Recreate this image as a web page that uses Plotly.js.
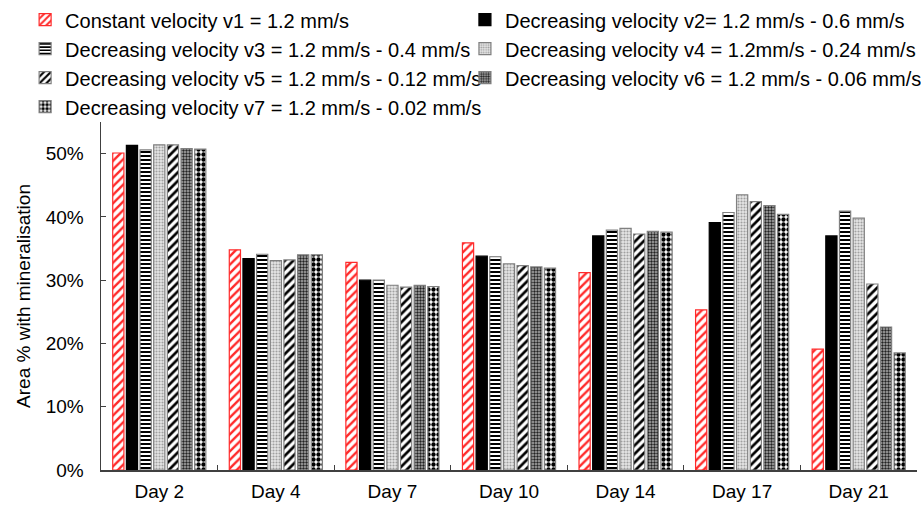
<!DOCTYPE html>
<html>
<head>
<meta charset="utf-8">
<script src="https://cdn.plot.ly/plotly-3.0.1.min.js"></script>
<style>html,body{margin:0;padding:0;background:#fff;}#chart{width:921px;height:505px;}</style>
</head>
<body>
<div id="chart"></div>
<script>
const days = ["Day 2", "Day 4", "Day 7", "Day 10", "Day 14", "Day 17", "Day 21"];
const seriesNames = [
  "Constant velocity v1 = 1.2 mm/s",
  "Decreasing velocity v2= 1.2 mm/s - 0.6 mm/s",
  "Decreasing velocity v3 = 1.2 mm/s - 0.4 mm/s",
  "Decreasing velocity v4 = 1.2mm/s - 0.24 mm/s",
  "Decreasing velocity v5 = 1.2 mm/s - 0.12 mm/s",
  "Decreasing velocity v6 = 1.2 mm/s - 0.06 mm/s",
  "Decreasing velocity v7 = 1.2 mm/s - 0.02 mm/s"
];
const v1 = [50.1, 34.8, 32.8, 35.9, 31.2, 25.3, 19.1];
const v2 = [51.3, 33.4, 30.0, 33.8, 37.0, 39.1, 37.0];
const v3 = [50.6, 34.1, 30.0, 33.7, 37.9, 40.7, 40.9];
const v4 = [51.4, 33.1, 29.2, 32.6, 38.2, 43.5, 39.8];
const v5 = [51.4, 33.2, 28.9, 32.3, 37.3, 42.4, 29.4];
const v6 = [50.8, 34.0, 29.2, 32.1, 37.7, 41.8, 22.6];
const v7 = [50.7, 34.0, 29.0, 31.9, 37.6, 40.4, 18.5];
const values = [v1, v2, v3, v4, v5, v6, v7];
// legend column of each series (left column: v1,v3,v5,v7; right column: v2,v4,v6)
const legendColumn = ["legend", "legend2", "legend", "legend2", "legend", "legend2", "legend"];

const styles = [
  {line: "#ff2a2a", shape: "/", fg: "#ff2a2a", bg: "#ffffff", size: 6, solidity: 0.4},
  {line: "#000000", solid: "#000000"},
  {line: "#808080", shape: "-", fg: "#000000", bg: "#ffffff", size: 4, solidity: 0.5},
  {line: "#808080", shape: ".", fg: "#a0a0a0", bg: "#e6e6e6", size: 3, solidity: 0.4},
  {line: "#808080", shape: "/", fg: "#000000", bg: "#ffffff", size: 6, solidity: 0.45},
  {line: "#808080", shape: ".", fg: "#222222", bg: "#b0b0b0", size: 3, solidity: 0.5},
  {line: "#808080", shape: ".", fg: "#000000", bg: "#ffffff", size: 5, solidity: 0.6}
];

const traces = values.map((vals, i) => {
  const s = styles[i];
  const marker = {line: {color: s.line, width: 1.2}};
  if (s.solid) {
    marker.color = s.solid;
  } else {
    marker.color = s.bg;
    marker.pattern = {shape: s.shape, fgcolor: s.fg, bgcolor: s.bg, size: s.size, solidity: s.solidity, fillmode: "replace"};
  }
  return {type: "bar", name: seriesNames[i], x: days, y: vals.map(v => v / 100), marker: marker, legend: legendColumn[i]};
});

const legendCommon = {orientation: "v", xref: "paper", yref: "paper", yanchor: "top", xanchor: "left",
  font: {size: 20}, traceorder: "normal", bgcolor: "rgba(0,0,0,0)"};

const layout = {
  width: 921, height: 505,
  margin: {l: 101, r: 4, t: 122, b: 35, autoexpand: false},
  paper_bgcolor: "#ffffff", plot_bgcolor: "#ffffff",
  font: {family: "Liberation Sans, Arial, sans-serif", size: 19, color: "#000000"},
  barmode: "group", bargap: 0.18, bargroupgap: 0.18,
  showlegend: true,
  legend: Object.assign({}, legendCommon, {x: -0.093, y: 1.35}),
  legend2: Object.assign({}, legendCommon, {x: 0.446, y: 1.35}),
  xaxis: {showline: true, linecolor: "#404040", linewidth: 1.5, ticks: "inside", tickson: "boundaries", ticklen: 5,
    tickcolor: "#404040", showgrid: false, tickfont: {size: 19}, ticklabelstandoff: 4},
  yaxis: {range: [0, 0.55], tickvals: [0, 0.1, 0.2, 0.3, 0.4, 0.5], tickformat: ".0%", showline: true, linecolor: "#404040",
    linewidth: 1.5, ticks: "inside", ticklen: 5, tickcolor: "#404040", showgrid: false, zeroline: false, tickfont: {size: 19},
    ticklabelstandoff: 12,
    title: {text: "Area % with mineralisation", font: {size: 19}, standoff: 10}}
};

Plotly.newPlot("chart", traces, layout, {displayModeBar: false, staticPlot: true});
</script>
</body>
</html>
